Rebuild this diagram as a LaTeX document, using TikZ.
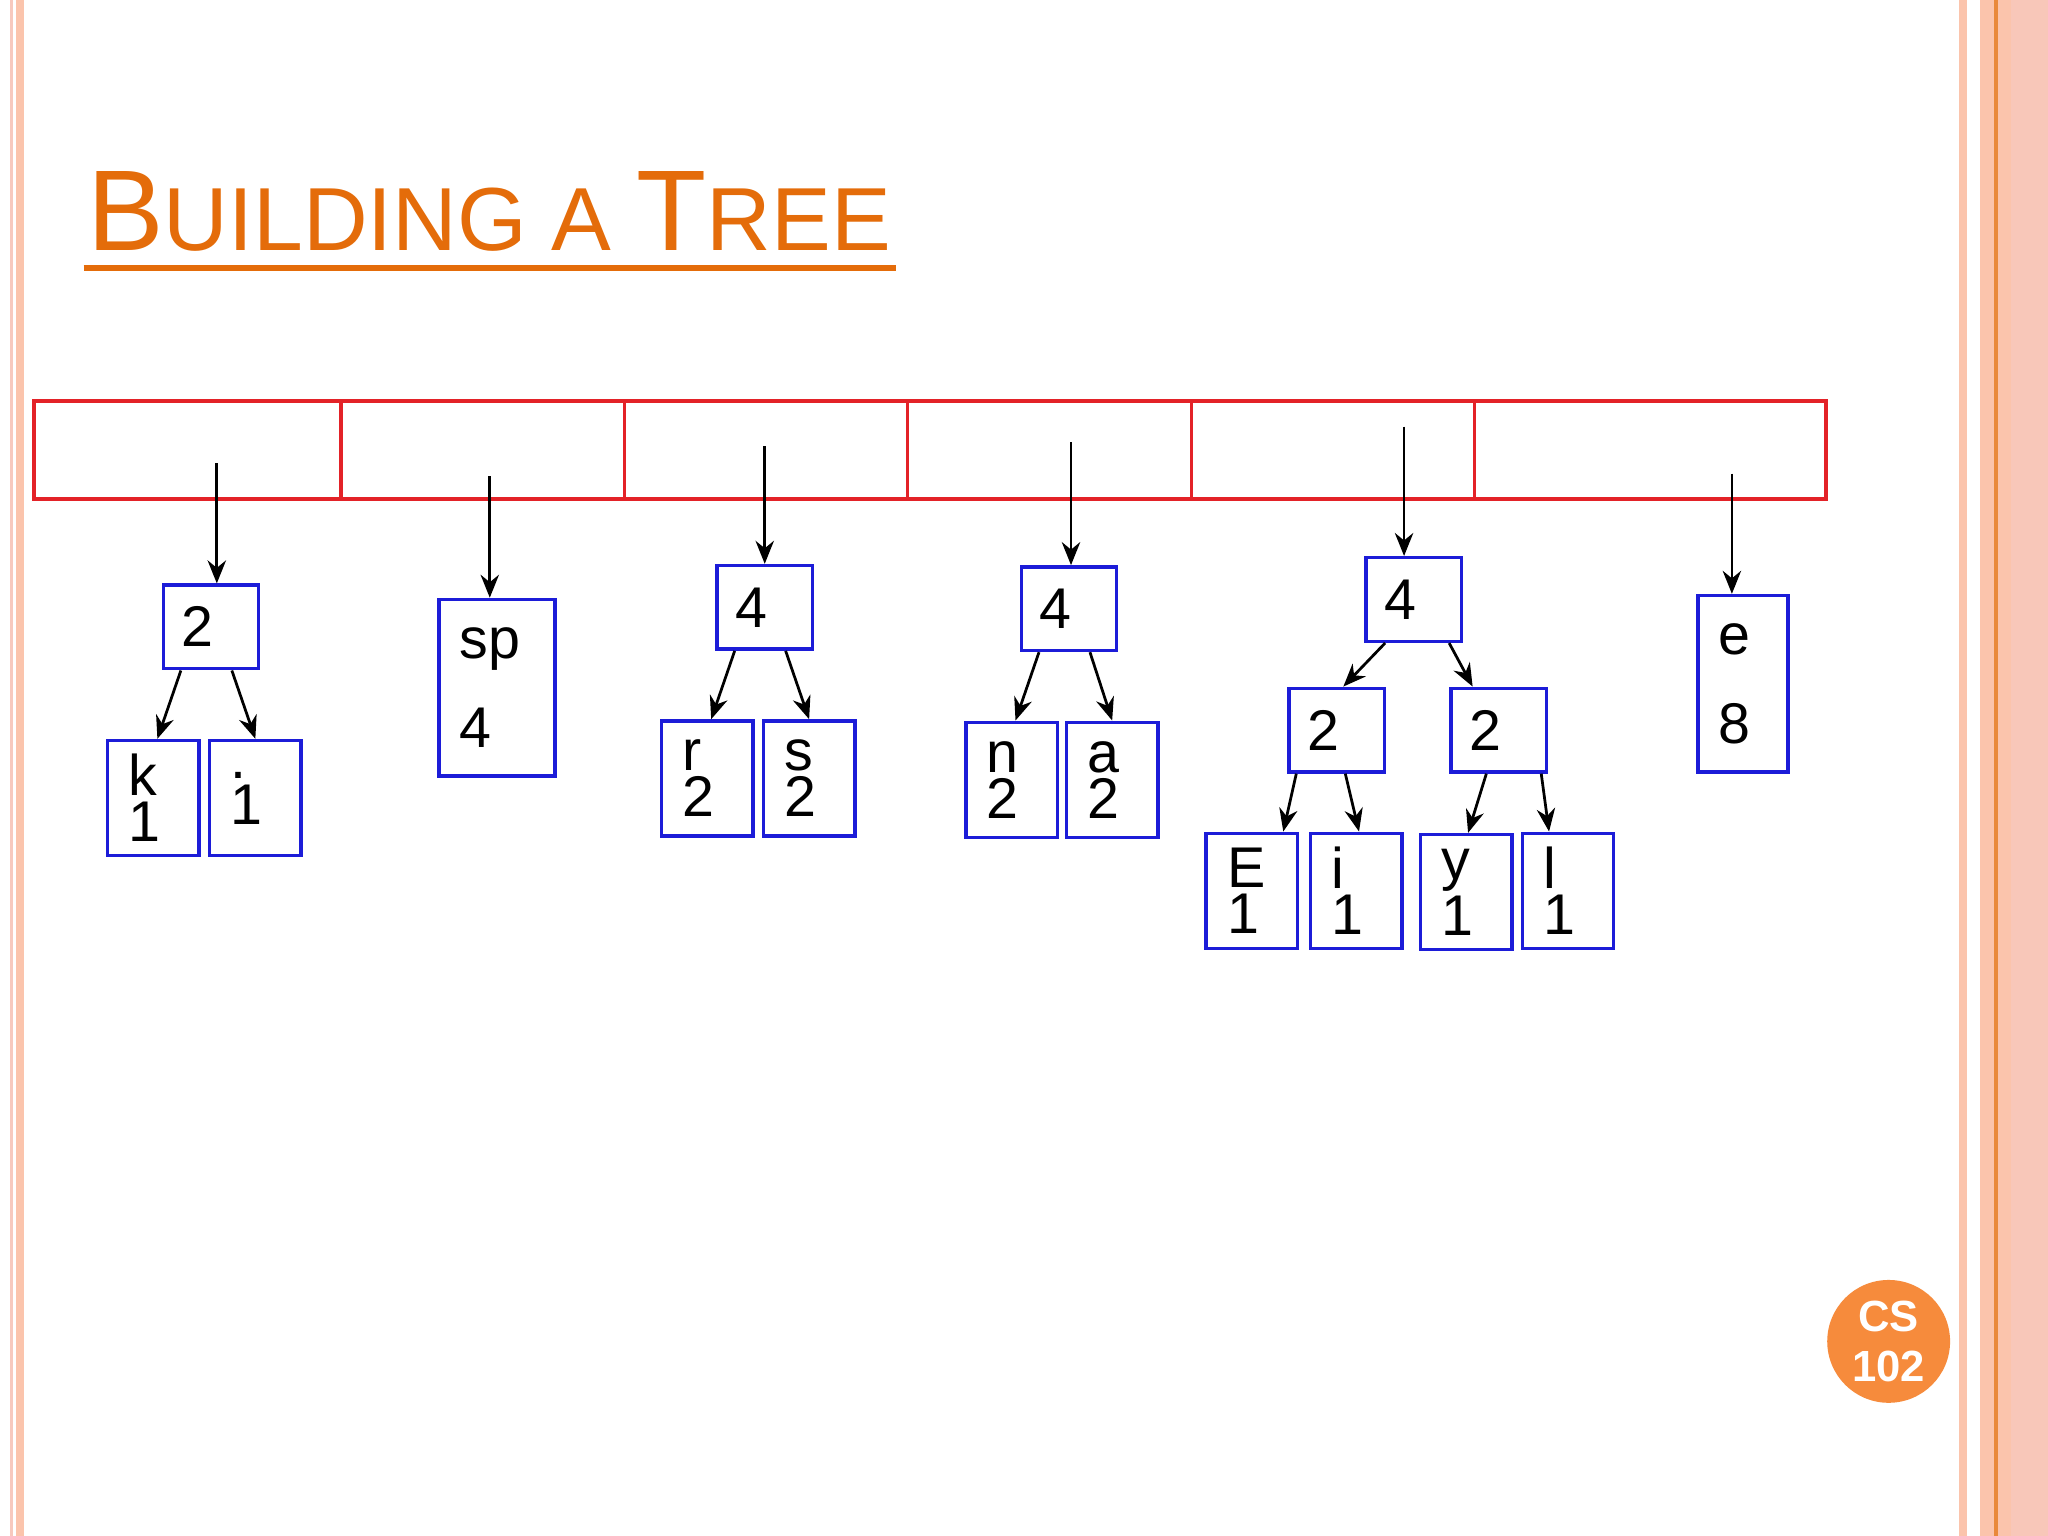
\documentclass[tikz,border=0pt]{standalone}
\usepackage{fontspec}
\setmainfont{Liberation Sans}
\usetikzlibrary{arrows.meta}
\definecolor{peach}{HTML}{FBC4AC}
\definecolor{peachl}{HTML}{F7C9BE}
\definecolor{orng}{HTML}{E46C0A}
\definecolor{badge}{HTML}{F68B3C}
\definecolor{rd}{HTML}{E32228}
\definecolor{bl}{HTML}{1C1CD8}
\tikzset{
  box/.style={draw=bl,line width=0.75pt,inner sep=0pt,font=\fontsize{12.5}{10}\selectfont},
  leaf/.style={box,minimum width=0.69cm,minimum height=0.88cm,text width=0.38cm,align=left,inner xsep=0.16cm},
  tall/.style={box,minimum height=1.35cm,align=left,font=\fontsize{12.5}{19.5}\selectfont,inner xsep=0.16cm},
  inr/.style={box,minimum width=0.69cm,minimum height=0.64cm,text width=0.45cm,align=left,inner xsep=0.14cm},
  arr/.style={-{Stealth[length=5pt,width=4pt]},line width=0.6pt},
  cell/.style={draw=rd,line width=0.7pt}
}
\begin{document}
\begin{tikzpicture}[x=0.01cm,y=-0.01cm]
\fill[white] (0,0) rectangle (1568,1176);
\useasboundingbox (0,0) rectangle (1568,1176);
% borders
\fill[peachl] (8,0) rectangle (10,1176);
\fill[peach] (12,0) rectangle (18,1176);
\fill[peach] (1500,0) rectangle (1506,1176);
\fill[peach] (1516,0) rectangle (1568,1176);
\fill[peachl!70!peach] (1540,0) rectangle (1568,1176);
\draw[orng!80,line width=0.8pt] (1528,0) -- (1528,1176);
% title
\node[anchor=base west,inner sep=0pt,text=orng] (t) at (66,192)
 {{\fontsize{25}{25}\selectfont B}{\fontsize{19.5}{25}\selectfont UILDING A }{\fontsize{25}{25}\selectfont T}{\fontsize{19.5}{25}\selectfont REE}};
\draw[orng,line width=1.2pt] (64,205) -- (686,205);
% red row
\foreach \a/\b in {26/261,261/478,478/695,695/912,912/1129,1129/1398}
  \draw[cell] (\a,307) rectangle (\b,382);
% nodes
\node[inr] (a) at (161.5,480) {2};
\node[leaf] (ak) at (117.5,611) {k\\1};
\node[leaf] (ad) at (195.5,611) {.\\1};
\node[tall,minimum width=0.89cm,text width=0.57cm] (sp) at (380.5,526.5) {sp\\4};
\node[inr] (b) at (585.5,465) {4};
\node[leaf] (br) at (541.5,596) {r\\2};
\node[leaf] (bs) at (619.5,596) {s\\2};
\node[inr] (c) at (818.5,466) {4};
\node[leaf] (cn) at (774.5,597) {n\\2};
\node[leaf] (ca) at (851.5,597) {a\\2};
\node[inr] (d) at (1082.5,459) {4};
\node[inr] (d1) at (1023.5,559) {2};
\node[inr] (d2) at (1147.5,559) {2};
\node[leaf] (dE) at (958.5,682) {E\\1};
\node[leaf] (di) at (1038.5,682) {i\\1};
\node[leaf] (dy) at (1122.5,683) {y\\1};
\node[leaf] (dl) at (1200.5,682) {l\\1};
\node[tall,minimum width=0.69cm,text width=0.37cm] (e) at (1334.5,523.5) {e\\8};
% top arrows
\draw[arr] ([yshift=0.92cm,xshift=0.045cm]a.north) -- ([xshift=0.045cm]a.north);
\draw[arr] ([yshift=0.93cm,xshift=-0.055cm]sp.north) -- ([xshift=-0.055cm]sp.north);
\draw[arr] ([yshift=0.9cm]b.north) -- (b.north);
\draw[arr] ([yshift=0.94cm,xshift=0.015cm]c.north) -- ([xshift=0.015cm]c.north);
\draw[arr] ([yshift=0.99cm,xshift=-0.075cm]d.north) -- ([xshift=-0.075cm]d.north);
\draw[arr] ([yshift=0.92cm,xshift=-0.085cm]e.north) -- ([xshift=-0.085cm]e.north);
% child arrows
\foreach \p/\l/\r in {a/ak/ad,b/br/bs,c/cn/ca}{
  \draw[arr] ([xshift=-0.23cm]\p.south) -- ([xshift=0.03cm]\l.north);
  \draw[arr] ([xshift=0.16cm]\p.south) -- (\r.north);
}
\draw[arr] ([xshift=-0.31cm]d1.south) -- ([xshift=0.24cm]dE.north);
\draw[arr] ([xshift=0.065cm]d1.south) -- ([xshift=0.02cm]di.north);
\draw[arr] ([xshift=-0.095cm]d2.south) -- ([xshift=0.015cm]dy.north);
\draw[arr] ([xshift=0.325cm]d2.south) -- ([xshift=-0.145cm]dl.north);
\draw[arr] ([xshift=-0.22cm]d.south) -- ([xshift=0.05cm]d1.north);
\draw[arr] ([xshift=0.27cm]d.south) -- ([xshift=-0.2cm]d2.north);
% badge
\node[circle,fill=badge,minimum size=0.94cm,inner sep=0pt,text=white,align=center,font=\fontsize{9.5}{11}\bfseries\selectfont] (cs) at (1446,1027) {CS\\102};
\end{tikzpicture}
\end{document}
